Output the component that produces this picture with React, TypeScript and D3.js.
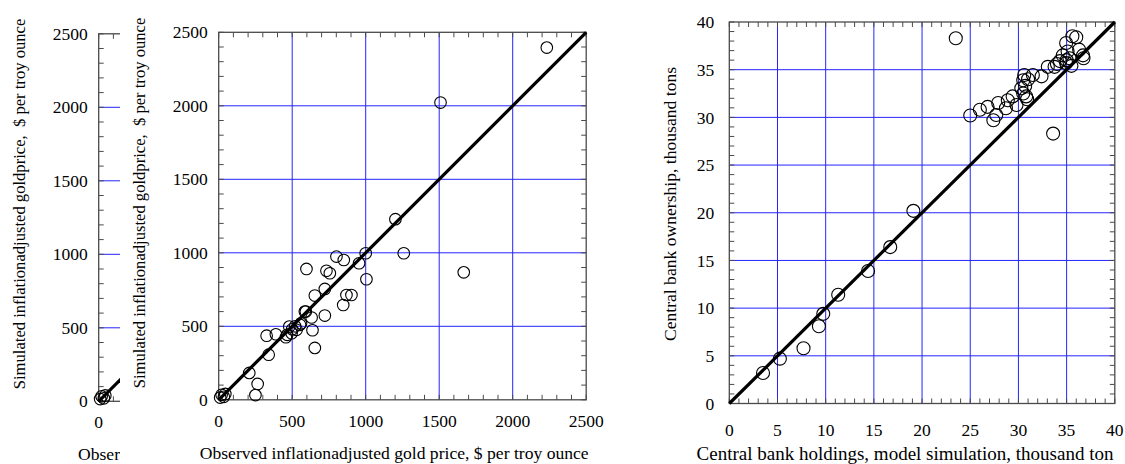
import React from "react";
import * as d3 from "d3";

// ---- Gold price panel data (observed vs simulated, $ per troy ounce) ----
const goldObserved = [20, 35, 10, 45, 208, 265, 250, 340, 326, 389, 457, 480, 496, 530, 520, 466, 553, 586, 593, 632, 638, 654, 654, 597, 722, 722, 733, 756, 801, 851, 847, 869, 903, 955, 1000, 1005, 1259, 1667, 1509, 2232, 1202, 500, 560];
const goldSimulated = [34, 20, 15, 40, 183, 108, 32, 307, 436, 446, 426, 498, 453, 476, 500, 442, 510, 600, 600, 560, 473, 353, 709, 890, 573, 754, 878, 861, 974, 951, 645, 713, 713, 929, 997, 820, 997, 867, 2022, 2396, 1229, 480, 520];
const goldTicks = [0, 500, 1000, 1500, 2000, 2500];
const goldGrid = [500, 1000, 1500, 2000];

// ---- Central bank panel data (thousand tons) ----
const cbSimulated = [3.5, 5.25, 7.7, 9.3, 9.75, 11.3, 14.4, 16.7, 19.1, 23.5, 25.0, 26.0, 26.8, 27.4, 27.7, 27.9, 28.7, 28.9, 29.4, 29.8, 30.3, 30.5, 30.6, 30.5, 30.8, 31.5, 32.4, 33.05, 33.6, 33.75, 34.3, 34.6, 34.95, 35.1, 35.3, 34.95, 35.6, 36.0, 36.3, 36.7, 36.75, 30.7, 31.0, 34.0, 35.0, 35.5, 30.9];
const cbObserved = [3.2, 4.7, 5.8, 8.1, 9.4, 11.4, 13.9, 16.4, 20.2, 38.3, 30.2, 30.8, 31.1, 29.7, 30.25, 31.5, 30.95, 31.8, 32.2, 31.3, 33.05, 33.9, 34.45, 32.5, 32.2, 34.45, 34.3, 35.3, 28.3, 35.3, 35.9, 36.5, 35.7, 36.9, 36.2, 37.8, 38.5, 38.4, 37.1, 36.5, 36.2, 33.3, 34.0, 35.6, 36.0, 35.4, 31.9];
const cbTicks = [0, 5, 10, 15, 20, 25, 30, 35, 40];
const cbGrid = [5, 10, 15, 20, 25, 30, 35];

const goldYTitle = "Simulated inflationadjusted goldprice,  $ per troy ounce";
const goldXTitle = "Observed inflationadjusted gold price, $ per troy ounce";
const goldXTitleCut = "Obser";
const cbYTitle = "Central bank ownership, thousand tons";
const cbXTitle = "Central bank holdings, model simulation, thousand ton";

const FONT = "'Liberation Serif', 'Times New Roman', Times, serif";
const GRID = "#2424ff";
const FRAME = "#4a4a4a";

type PanelProps = {
  left: number;
  top: number;
  width: number;
  height: number;
  max: number;
  minorStep: number;
  ticks: number[];
  xTickLabels: number[];
  grid: number[];
  xs: number[];
  ys: number[];
  r: number;
  xTitle: string;
  yTitle: string;
  xTitleX: number;
  xTitleY: number;
  xTitleAnchor: "start" | "middle";
  yTitleX: number;
  yTitleY: number;
  xTickDy: number;
  tickSize: number;
  titleSize: number;
  xTitleSize: number;
  yLabelGap: number;
};

function Panel(p: PanelProps) {
  const x = d3.scaleLinear().domain([0, p.max]).range([p.left, p.left + p.width]);
  const y = d3.scaleLinear().domain([0, p.max]).range([p.top + p.height, p.top]);
  const minor = d3.range(0, p.max + 1e-9, p.minorStep);
  const tl = 5;
  const line = d3.line<number>().x((d) => x(d)).y((d) => y(d));
  return (
    <g>
      {p.grid.map((g) => (
        <g key={"g" + g}>
          <line x1={x(g)} x2={x(g)} y1={y(0)} y2={y(p.max)} stroke={GRID} strokeWidth={1} />
          <line x1={x(0)} x2={x(p.max)} y1={y(g)} y2={y(g)} stroke={GRID} strokeWidth={1} />
        </g>
      ))}
      {minor.map((m, i) => (
        <g key={"t" + i} stroke={FRAME} strokeWidth={1}>
          <line x1={x(m)} x2={x(m)} y1={y(0)} y2={y(0) - tl} />
          <line x1={x(m)} x2={x(m)} y1={y(p.max)} y2={y(p.max) + tl} />
          <line x1={x(0)} x2={x(0) + tl} y1={y(m)} y2={y(m)} />
          <line x1={x(p.max)} x2={x(p.max) - tl} y1={y(m)} y2={y(m)} />
        </g>
      ))}
      <rect x={x(0)} y={y(p.max)} width={p.width} height={p.height} fill="none" stroke={FRAME} strokeWidth={1.3} />
      {p.xs.map((v, i) => (
        <circle key={"c" + i} cx={x(v)} cy={y(p.ys[i])} r={p.r} fill="none" stroke="#000" strokeWidth={1.1} />
      ))}
      <path d={line([0, p.max]) || ""} stroke="#000" strokeWidth={3.2} fill="none" />
      {p.ticks.map((t) => (
        <text key={"yl" + t} x={x(0) - p.yLabelGap} y={y(t)} dy="0.35em" textAnchor="end" fontFamily={FONT} fontSize={p.tickSize} fill="#000">
          {t}
        </text>
      ))}
      {p.xTickLabels.map((t) => (
        <text key={"xl" + t} x={x(t)} y={y(0) + p.xTickDy} textAnchor="middle" fontFamily={FONT} fontSize={p.tickSize} fill="#000">
          {t}
        </text>
      ))}
      <text x={p.xTitleX} y={p.xTitleY} textAnchor={p.xTitleAnchor} fontFamily={FONT} fontSize={p.xTitleSize} fill="#000">
        {p.xTitle}
      </text>
      <text
        transform={`translate(${p.yTitleX},${p.yTitleY}) rotate(-90)`}
        textAnchor="middle"
        fontFamily={FONT}
        fontSize={p.titleSize}
        fill="#000"
        style={{ whiteSpace: "pre" }}
      >
        {p.yTitle}
      </text>
    </g>
  );
}

export default function App() {
  const goldBase = {
    width: 367.5,
    height: 367.5,
    max: 2500,
    minorStep: 100,
    ticks: goldTicks,
    grid: goldGrid,
    xs: goldObserved,
    ys: goldSimulated,
    r: 5.8,
    yTitle: goldYTitle,
    xTickDy: 27,
    tickSize: 17.5,
    titleSize: 16.6,
    xTitleSize: 17.6,
    yLabelGap: 11,
  };
  const midLeft = 218.7;
  const midTop = 32.3;
  const leftLeft = 98.7;
  const leftTop = 33.8;
  return (
    <svg width={1125} height={464} style={{ position: "absolute", left: 0, top: 0, background: "#fff" }}>
      <defs>
        <clipPath id="leftClip">
          <rect x={0} y={0} width={120} height={464} />
        </clipPath>
      </defs>
      <rect x={0} y={0} width={1125} height={464} fill="#fff" />
      {/* partially hidden duplicate panel on the far left */}
      <g clipPath="url(#leftClip)">
        <Panel
          {...goldBase}
          left={leftLeft}
          top={leftTop}
          xTickLabels={[0]}
          xTitle={goldXTitleCut}
          xTitleX={78}
          xTitleY={460}
          xTitleAnchor="start"
          yTitleX={leftLeft - 74}
          yTitleY={204}
        />
      </g>
      <Panel
        {...goldBase}
        left={midLeft}
        top={midTop}
        xTickLabels={goldTicks}
        xTitle={goldXTitle}
        xTitleX={midLeft + 175.5}
        xTitleY={459}
        xTitleAnchor="middle"
        yTitleX={midLeft - 74}
        yTitleY={203}
      />
      <Panel
        left={729.3}
        top={22}
        width={385.5}
        height={381.5}
        max={40}
        minorStep={1}
        ticks={cbTicks}
        xTickLabels={cbTicks}
        grid={cbGrid}
        xs={cbSimulated}
        ys={cbObserved}
        r={6.5}
        xTitle={cbXTitle}
        yTitle={cbYTitle}
        xTitleX={905}
        xTitleY={460}
        xTitleAnchor="middle"
        yTitleX={676}
        yTitleY={204}
        xTickDy={32}
        tickSize={17.5}
        titleSize={17.6}
        xTitleSize={19}
        yLabelGap={15}
      />
    </svg>
  );
}
